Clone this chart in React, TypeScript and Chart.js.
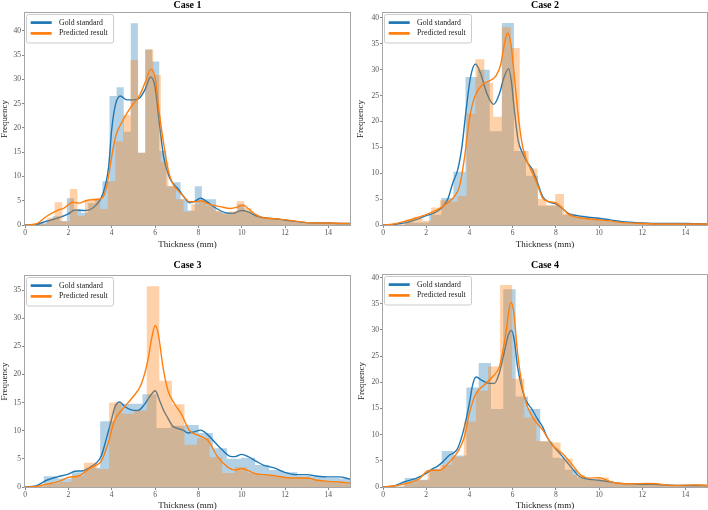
import React, { useEffect, useRef } from 'react';
import { Chart, registerables } from 'chart.js';
Chart.register(...registerables);

const FONT = "'Liberation Serif', 'Times New Roman', 'DejaVu Serif', serif";

// ---------- shared labels / ticks ----------
const caseTitles = ['Case 1', 'Case 2', 'Case 3', 'Case 4'];
const seriesNames = ['Gold standard', 'Predicted result'];
const xAxisTitle = 'Thickness (mm)';
const yAxisTitle = 'Frequency';
const xTickValues = [0, 2, 4, 6, 8, 10, 12, 14];
const yTicks40 = [0, 5, 10, 15, 20, 25, 30, 35, 40];
const yTicks35 = [0, 5, 10, 15, 20, 25, 30, 35];

// ---------- Case 1 ----------
const case1GoldBins = [0.292, 0.328]; // first edge, bin width
const case1GoldHist = [0, 0.3, 1.0, 1.8, 0.8, 5.5, 3.0, 2.5, 4.5, 5.3, 9.0, 26.6, 28.4, 19.2, 41.6, 14.9, 36.2, 33.7, 15.3, 8.0, 8.8, 5.3, 3.0, 8.0, 5.3, 5.3, 2.8, 2.5, 2.5, 4.3, 2.8, 2.0, 1.5, 1.5, 1.2, 1.0, 0.8, 0.5, 0.4, 0.4, 0.4, 0.3, 0.3, 0.3, 0.2];
const case1PredBins = [0.32, 0.35];
const case1PredHist = [0, 0.3, 1.5, 4.7, 0.7, 7.4, 1.9, 5.0, 5.5, 3.3, 9.0, 17.2, 22.7, 34.0, 14.9, 36.2, 30.9, 13.0, 8.0, 5.3, 2.8, 4.3, 5.0, 4.0, 3.0, 2.3, 2.8, 4.9, 3.5, 2.0, 1.5, 1.3, 1.2, 1.0, 0.8, 0.5, 0.4, 0.3, 0.3, 0.3, 0.3, 0.2];
const case1GoldKde = [[0, 0], [0.5, 0.1], [1.0, 0.8], [1.5, 1.4], [2.0, 2.3], [2.3, 3.1], [2.8, 3.0], [3.3, 4.2], [3.6, 6.5], [3.86, 12], [4.0, 19.6], [4.17, 24.7], [4.4, 26.6], [4.7, 25.8], [5.0, 25.8], [5.3, 26.2], [5.55, 28], [5.8, 30.5], [6.0, 28.5], [6.2, 21], [6.4, 14], [6.65, 10], [6.9, 8.2], [7.1, 7.3], [7.3, 6], [7.6, 4.6], [7.8, 4.8], [8.1, 5.5], [8.4, 4.8], [8.8, 3.5], [9.3, 2.5], [9.6, 2.4], [10.0, 3.0], [10.3, 2.7], [10.6, 2.0], [11.0, 1.5], [11.5, 1.3], [12.0, 1.0], [12.5, 0.7], [13.0, 0.5], [13.5, 0.4], [14.0, 0.4], [14.5, 0.3], [15, 0.3]];
const case1PredKde = [[0, 0], [0.5, 0.2], [1.0, 1.8], [1.5, 3.0], [1.8, 3.5], [2.2, 4.7], [2.5, 4.5], [2.8, 5.0], [3.1, 5.2], [3.4, 5.3], [3.63, 6.0], [3.8, 8.6], [4.0, 14.1], [4.2, 18.5], [4.4, 20.6], [4.7, 23], [5.0, 25], [5.2, 26], [5.4, 27.8], [5.6, 30], [5.8, 32.1], [6.0, 30.5], [6.2, 23], [6.4, 16.8], [6.6, 11.5], [6.8, 8.7], [7.0, 7.4], [7.3, 6.0], [7.6, 4.8], [7.9, 4.8], [8.1, 5.0], [8.5, 4.3], [9.0, 3.8], [9.5, 3.4], [9.8, 3.7], [10.05, 4.1], [10.3, 3.4], [10.6, 2.3], [11.0, 1.5], [11.5, 1.3], [12.0, 1.1], [12.5, 0.8], [13.0, 0.5], [13.5, 0.4], [14.0, 0.4], [15, 0.3]];

// ---------- Case 2 ----------
const case2GoldBins = [0.46, 0.56];
const case2GoldHist = [0, 0.5, 0.5, 2.0, 5.2, 10.3, 28.6, 30.0, 18.1, 39.0, 14.3, 9.5, 3.7, 3.7, 2.0, 1.8, 1.3, 1.1, 0.7, 0.5, 0.4, 0.3, 0.3, 0.2, 0.2, 0.2];
const case2PredBins = [0.18, 0.41];
const case2PredHist = [0, 0.2, 1.0, 1.6, 0.8, 3.4, 4.8, 4.5, 5.6, 21.5, 32.0, 27.5, 20.9, 38.2, 34.2, 14.3, 10.9, 5.0, 3.8, 6.0, 2.2, 1.5, 1.2, 1.0, 1.0, 0.6, 0.4, 0.3, 0.3, 0.3, 0.2, 0.2, 0.2, 0.2, 0.2, 0.2, 0.2];
const case2GoldKde = [[0, 0], [0.5, 0.1], [1.0, 0.4], [1.5, 1.0], [2.0, 1.8], [2.5, 2.6], [3.0, 5.0], [3.23, 8.1], [3.46, 10.7], [3.65, 15], [3.85, 22.3], [4.05, 28.5], [4.28, 31.1], [4.5, 29.5], [4.8, 25.5], [5.12, 23.3], [5.4, 25.5], [5.6, 28.5], [5.82, 30.2], [5.95, 27.5], [6.08, 22.3], [6.25, 16.5], [6.46, 13.9], [6.7, 12], [6.92, 10.7], [7.15, 8.2], [7.39, 5.5], [7.7, 4.4], [8.0, 4.1], [8.3, 3.2], [8.6, 2.2], [9.0, 1.8], [9.5, 1.5], [10.0, 1.3], [10.5, 1.0], [11.0, 0.7], [12.0, 0.4], [13, 0.3], [14, 0.3], [15, 0.2]];
const case2PredKde = [[0, 0], [0.5, 0.2], [1.0, 0.7], [1.5, 1.3], [2.0, 2.0], [2.5, 2.9], [3.0, 4.3], [3.3, 5.5], [3.54, 7.4], [3.77, 12.9], [4.0, 20.4], [4.23, 24.6], [4.62, 27.2], [4.9, 27.8], [5.23, 28.8], [5.45, 31], [5.6, 34.5], [5.77, 37.1], [5.92, 35], [6.08, 28.8], [6.23, 22.3], [6.46, 15.2], [6.7, 12], [6.92, 10], [7.15, 7.8], [7.39, 5.2], [7.7, 4.5], [8.0, 4.3], [8.3, 3.3], [8.6, 2.0], [9.0, 1.5], [9.5, 1.2], [10.0, 1.0], [10.5, 0.8], [11, 0.5], [12, 0.3], [13, 0.2], [14, 0.2], [15, 0.2]];

// ---------- Case 3 ----------
const case3GoldBins = [0.22, 0.65];
const case3GoldHist = [0.1, 1.9, 1.5, 2.6, 3.4, 11.7, 14.8, 14.8, 16.5, 10.5, 10.9, 11.0, 9.6, 6.9, 5.0, 5.2, 3.9, 3.0, 2.6, 2.0, 1.8, 1.6, 1.5];
const case3PredBins = [0.40, 0.58];
const case3PredHist = [0.2, 0.6, 0.9, 2.0, 4.3, 3.2, 15.0, 13.0, 13.6, 35.7, 18.9, 14.7, 7.5, 8.7, 5.3, 2.5, 3.5, 2.5, 2.0, 1.8, 1.6, 1.7, 1.2, 0.9, 0.8, 0.7];
const case3GoldKde = [[0, 0], [0.5, 0.2], [1.0, 1.2], [1.5, 1.8], [2.0, 2.3], [2.3, 2.8], [2.7, 2.9], [3.0, 3.5], [3.3, 4.3], [3.52, 5.5], [3.75, 8.5], [3.98, 11.8], [4.15, 14.2], [4.37, 15.1], [4.6, 14.3], [4.9, 13.7], [5.21, 13.6], [5.5, 14.6], [5.8, 16.3], [6.01, 17.1], [6.2, 15.5], [6.4, 13.6], [6.6, 12.2], [6.8, 10.9], [7.06, 10.4], [7.3, 10.1], [7.52, 9.6], [7.8, 9.8], [8.1, 10.1], [8.4, 9.4], [8.75, 8.0], [9.1, 6.6], [9.44, 5.5], [9.7, 5.4], [10.0, 5.8], [10.3, 5.4], [10.7, 4.5], [11.0, 3.9], [11.5, 3.4], [12.0, 2.6], [12.5, 2.2], [13.0, 2.2], [13.5, 1.9], [14.0, 1.8], [14.5, 1.8], [15.0, 1.4]];
const case3PredKde = [[0, 0], [0.5, 0.1], [1.0, 0.5], [1.5, 0.9], [2.0, 1.7], [2.5, 2.0], [3.0, 3.3], [3.3, 3.9], [3.52, 4.6], [3.83, 7.7], [4.13, 11.8], [4.52, 13.9], [4.98, 16], [5.37, 18.3], [5.67, 22.5], [5.85, 26.5], [6.01, 28.7], [6.15, 27.2], [6.37, 21.3], [6.6, 17.1], [6.9, 14.8], [7.21, 13], [7.6, 10], [7.98, 9.2], [8.44, 8.3], [8.9, 5.3], [9.37, 3.5], [9.7, 3.0], [10.0, 3.3], [10.3, 2.9], [10.7, 2.3], [11.0, 2.2], [11.5, 2.0], [12.0, 1.7], [12.5, 1.6], [13.0, 1.6], [13.5, 1.2], [14.0, 1.0], [14.5, 0.9], [15.0, 0.7]];

// ---------- Case 4 ----------
const case4GoldBins = [0.44, 0.57];
const case4GoldHist = [0.1, 1.7, 1.4, 3.5, 6.9, 6.0, 19.0, 23.7, 14.9, 37.8, 17.3, 14.9, 8.7, 5.6, 3.3, 1.8, 1.4, 1.0, 0.6, 0.5, 0.5, 0.5, 0.4, 0.3, 0.3, 0.3];
const case4PredBins = [0.38, 0.56];
const case4PredHist = [0.1, 0.9, 1.3, 3.2, 4.2, 5.8, 12.5, 18.4, 23.0, 38.6, 20.7, 13.3, 8.8, 8.5, 5.4, 2.3, 1.5, 1.8, 0.8, 0.6, 0.6, 0.7, 0.5, 0.3, 0.4, 0.5, 0.3];
const case4GoldKde = [[0, 0], [0.5, 0.2], [1.0, 1.0], [1.5, 1.6], [2.0, 2.6], [2.31, 3.5], [2.5, 3.9], [2.77, 4.8], [3.08, 6.1], [3.3, 6.6], [3.46, 7.4], [3.77, 11.5], [4.0, 16], [4.15, 19.5], [4.31, 21.0], [4.6, 20.3], [4.93, 19.8], [5.16, 19.8], [5.4, 22], [5.6, 25.5], [5.8, 29], [5.95, 29.9], [6.08, 28], [6.23, 23], [6.54, 17.3], [6.92, 14.7], [7.15, 13], [7.39, 11.5], [7.6, 9.5], [7.85, 8], [8.31, 5.8], [8.77, 3.5], [9.1, 2.0], [9.5, 1.5], [10.0, 1.3], [10.5, 1.0], [11.0, 0.7], [11.5, 0.6], [12.0, 0.5], [12.5, 0.5], [13, 0.4], [14, 0.3], [15, 0.3]];
const case4PredKde = [[0, 0], [0.5, 0.2], [1.0, 0.6], [1.5, 1.2], [1.69, 1.6], [2.08, 3.1], [2.3, 3.2], [2.62, 3.2], [3.08, 4.8], [3.46, 6.7], [3.77, 9.6], [4.0, 14.1], [4.31, 17.9], [4.69, 19.5], [5.08, 21.1], [5.39, 23], [5.55, 26], [5.69, 29.4], [5.92, 35.3], [6.05, 33.5], [6.23, 25.6], [6.54, 17.3], [6.92, 13.4], [7.39, 10.9], [7.85, 8], [8.31, 6.4], [8.77, 4.2], [9.1, 2.5], [9.5, 1.7], [10.0, 1.8], [10.3, 1.4], [10.7, 0.8], [11.5, 0.6], [12.2, 0.7], [12.7, 0.6], [13.5, 0.3], [14.5, 0.4], [15, 0.3]];

const yMaxes = [43.7, 40.95, 37.5, 40.5];

// ---------- styles ----------
const GOLD_LINE = '#1f77b4';
const PRED_LINE = '#ff7f0e';
const GOLD_FILL = 'rgba(31,119,180,0.34)';
const PRED_FILL = 'rgba(255,127,14,0.36)';

type Series = { bins: number[]; hist: number[]; kde: number[][] };
type PanelDef = {
  title: string; gold: Series; pred: Series; yMax: number; yTicks: number[];
  left: number; top: number; yW: number; xH: number; padTop: number; padRight: number;
  titleY: number; xLabelY: number; yLabelX: number;
};

const panels: PanelDef[] = [
  { title: caseTitles[0], gold: { bins: case1GoldBins, hist: case1GoldHist, kde: case1GoldKde }, pred: { bins: case1PredBins, hist: case1PredHist, kde: case1PredKde }, yMax: yMaxes[0], yTicks: yTicks40, left: 0, top: 0, yW: 25, xH: 30, padTop: 13, padRight: 4, titleY: 8, xLabelY: 246.5, yLabelX: 5 },
  { title: caseTitles[1], gold: { bins: case2GoldBins, hist: case2GoldHist, kde: case2GoldKde }, pred: { bins: case2PredBins, hist: case2PredHist, kde: case2PredKde }, yMax: yMaxes[1], yTicks: yTicks40, left: 354, top: 0, yW: 29, xH: 30, padTop: 13, padRight: 1, titleY: 8, xLabelY: 246.5, yLabelX: 7 },
  { title: caseTitles[2], gold: { bins: case3GoldBins, hist: case3GoldHist, kde: case3GoldKde }, pred: { bins: case3PredBins, hist: case3PredHist, kde: case3PredKde }, yMax: yMaxes[2], yTicks: yTicks35, left: 0, top: 255, yW: 25, xH: 23, padTop: 21, padRight: 4, titleY: 13, xLabelY: 252.5, yLabelX: 5 },
  { title: caseTitles[3], gold: { bins: case4GoldBins, hist: case4GoldHist, kde: case4GoldKde }, pred: { bins: case4PredBins, hist: case4PredHist, kde: case4PredKde }, yMax: yMaxes[3], yTicks: yTicks40, left: 354, top: 255, yW: 29, xH: 23, padTop: 20, padRight: 1, titleY: 13, xLabelY: 252.5, yLabelX: 7.5 },
];

function histPoints(bins: number[], hist: number[]) {
  const [start, width] = bins;
  const pts = [{ x: start, y: 0 }];
  hist.forEach((h, i) => pts.push({ x: start + i * width, y: h }));
  const end = start + hist.length * width;
  pts.push({ x: end, y: hist[hist.length - 1] });
  pts.push({ x: end, y: 0 });
  return pts;
}

function kdePoints(kde: number[][]) {
  return kde.map(([x, y]) => ({ x, y }));
}

function makeOverlay(p: PanelDef) {
  return {
    id: 'overlay',
    afterDraw(chart: any) {
      const { ctx, chartArea: a } = chart;
      ctx.save();
      // frame (spines)
      ctx.strokeStyle = '#a6a6a6';
      ctx.lineWidth = 1;
      ctx.strokeRect(a.left - 0.5, a.top - 0.5, a.right - a.left + 1, a.bottom - a.top + 1);
      // title
      ctx.fillStyle = '#000';
      ctx.font = `bold 10px ${FONT}`;
      ctx.textAlign = 'center';
      ctx.textBaseline = 'alphabetic';
      ctx.fillText(p.title, (a.left + a.right) / 2, p.titleY);
      // x axis title
      ctx.fillStyle = '#222';
      ctx.font = `9px ${FONT}`;
      ctx.fillText(xAxisTitle, (a.left + a.right) / 2, p.xLabelY);
      // y axis title
      ctx.save();
      ctx.translate(p.yLabelX, (a.top + a.bottom) / 2);
      ctx.rotate(-Math.PI / 2);
      ctx.textBaseline = 'middle';
      ctx.fillText(yAxisTitle, 0, 0);
      ctx.restore();
      // legend
      const lx = a.left + 1.5, ly = a.top + 1.5, lw = 87, lh = 28.5;
      ctx.beginPath();
      ctx.roundRect(lx, ly, lw, lh, 2);
      ctx.fillStyle = 'rgba(255,255,255,0.85)';
      ctx.fill();
      ctx.strokeStyle = '#cccccc';
      ctx.lineWidth = 1;
      ctx.stroke();
      const colors = [GOLD_LINE, PRED_LINE];
      seriesNames.forEach((name, i) => {
        const y = a.top + 9.6 + i * 10.8;
        ctx.beginPath();
        ctx.strokeStyle = colors[i];
        ctx.lineWidth = 2.7;
        ctx.moveTo(a.left + 5.7, y);
        ctx.lineTo(a.left + 26.7, y);
        ctx.stroke();
        ctx.fillStyle = '#222';
        ctx.font = `7.8px ${FONT}`;
        ctx.textAlign = 'left';
        ctx.textBaseline = 'middle';
        ctx.fillText(name, a.left + 34, y);
      });
      ctx.restore();
    },
  };
}

function Panel({ def }: { def: PanelDef }) {
  const ref = useRef<HTMLCanvasElement>(null);
  useEffect(() => {
    if (!ref.current) return;
    const tickFont = { family: FONT, size: 7.5 };
    const chart = new Chart(ref.current, {
      type: 'line',
      data: {
        datasets: [
          { label: 'gold-hist', data: histPoints(def.gold.bins, def.gold.hist), stepped: true, fill: 'origin', backgroundColor: GOLD_FILL, borderWidth: 0, pointRadius: 0, order: 4 } as any,
          { label: 'gold-kde', data: kdePoints(def.gold.kde), borderColor: GOLD_LINE, borderWidth: 1.4, pointRadius: 0, fill: false, cubicInterpolationMode: 'monotone', order: 3 } as any,
          { label: 'pred-hist', data: histPoints(def.pred.bins, def.pred.hist), stepped: true, fill: 'origin', backgroundColor: PRED_FILL, borderWidth: 0, pointRadius: 0, order: 2 } as any,
          { label: 'pred-kde', data: kdePoints(def.pred.kde), borderColor: PRED_LINE, borderWidth: 1.4, pointRadius: 0, fill: false, cubicInterpolationMode: 'monotone', order: 1 } as any,
        ],
      },
      options: {
        animation: false,
        responsive: false,
        devicePixelRatio: 1,
        layout: { padding: { top: def.padTop, right: def.padRight, bottom: 0, left: 0 } },
        plugins: { legend: { display: false }, tooltip: { enabled: false }, title: { display: false } },
        scales: {
          x: {
            type: 'linear', min: 0, max: 15,
            afterBuildTicks: (s: any) => { s.ticks = xTickValues.map((v) => ({ value: v })); },
            afterFit: (s: any) => { s.height = def.xH; },
            ticks: { font: tickFont, color: '#555', padding: 1, maxRotation: 0, autoSkip: false, callback: (v: any) => String(v) },
            grid: { drawOnChartArea: false, drawTicks: true, tickLength: 3, color: '#888' },
            border: { display: false },
          },
          y: {
            type: 'linear', min: 0, max: def.yMax,
            afterBuildTicks: (s: any) => { s.ticks = def.yTicks.map((v) => ({ value: v })); },
            afterFit: (s: any) => { s.width = def.yW; },
            ticks: { font: tickFont, color: '#555', padding: 1, autoSkip: false, callback: (v: any) => String(v) },
            grid: { drawOnChartArea: false, drawTicks: true, tickLength: 3, color: '#888' },
            border: { display: false },
          },
        },
      } as any,
      plugins: [makeOverlay(def)],
    });
    return () => chart.destroy();
  }, [def]);
  return (
    <canvas
      ref={ref}
      width={354}
      height={255}
      style={{ position: 'absolute', left: def.left, top: def.top, width: 354, height: 255 }}
    />
  );
}

export default function App() {
  return (
    <div style={{ position: 'absolute', left: 0, top: 0, width: 708, height: 510, background: '#fff', overflow: 'hidden' }}>
      {panels.map((p) => (
        <Panel key={p.title} def={p} />
      ))}
    </div>
  );
}
